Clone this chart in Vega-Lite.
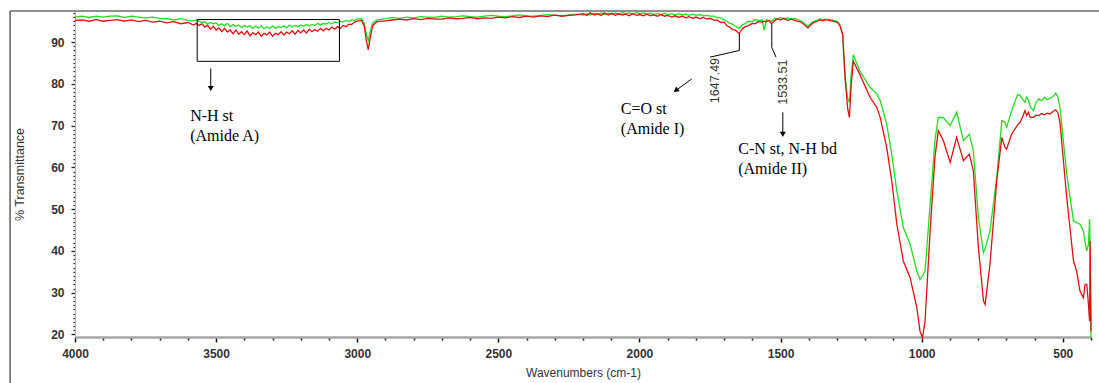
{
  "$schema": "https://vega.github.io/schema/vega-lite/v6.json",
  "width": 1016,
  "height": 326,
  "autosize": {"type": "none"},
  "padding": {"left": 75, "top": 11, "right": 8, "bottom": 46},
  "background": "white",
  "config": {"view": {"stroke": null}},
  "datasets": {
    "spec": [
      {"x":4000,"g":96.0,"r":95.2},{"x":3975,"g":96.2,"r":95.3},{"x":3950,"g":95.9,"r":95.0},{"x":3925,"g":96.2,"r":95.4},
      {"x":3900,"g":96.0,"r":95.0},{"x":3875,"g":96.2,"r":95.2},{"x":3850,"g":96.3,"r":95.4},{"x":3825,"g":95.9,"r":95.0},
      {"x":3800,"g":96.2,"r":95.3},{"x":3775,"g":96.0,"r":94.9},{"x":3750,"g":95.8,"r":95.2},{"x":3725,"g":96.0,"r":94.8},
      {"x":3700,"g":95.7,"r":95.0},{"x":3675,"g":95.6,"r":94.6},{"x":3650,"g":95.3,"r":94.9},{"x":3625,"g":95.6,"r":94.4},
      {"x":3600,"g":95.2,"r":94.7},{"x":3580,"g":95.1,"r":94.1},{"x":3570,"g":95.3,"r":94.5},
      {"x":3560,"g":95.0,"r":94.0},{"x":3550,"g":94.7,"r":94.4},{"x":3540,"g":94.9,"r":93.6},{"x":3530,"g":94.3,"r":94.0},
      {"x":3520,"g":94.7,"r":93.1},{"x":3510,"g":94.4,"r":93.8},{"x":3500,"g":94.6,"r":92.9},{"x":3490,"g":94.0,"r":93.4},
      {"x":3480,"g":94.4,"r":92.5},{"x":3470,"g":93.9,"r":93.3},{"x":3460,"g":94.5,"r":92.4},{"x":3450,"g":93.7,"r":92.9},
      {"x":3440,"g":94.2,"r":92.0},{"x":3430,"g":93.8,"r":92.9},{"x":3420,"g":94.1,"r":91.9},{"x":3410,"g":93.5,"r":92.5},
      {"x":3400,"g":94.0,"r":91.8},{"x":3390,"g":93.6,"r":92.7},{"x":3380,"g":93.9,"r":91.5},{"x":3370,"g":93.3,"r":92.3},
      {"x":3360,"g":93.8,"r":91.8},{"x":3350,"g":93.4,"r":92.4},{"x":3340,"g":93.9,"r":91.4},{"x":3330,"g":93.2,"r":92.1},
      {"x":3320,"g":93.7,"r":91.7},{"x":3310,"g":93.3,"r":92.4},{"x":3300,"g":93.9,"r":91.4},{"x":3290,"g":93.3,"r":92.1},
      {"x":3280,"g":93.7,"r":91.8},{"x":3270,"g":93.5,"r":92.5},{"x":3260,"g":93.9,"r":91.7},{"x":3250,"g":93.4,"r":92.4},
      {"x":3240,"g":94.1,"r":92.0},{"x":3230,"g":93.6,"r":92.7},{"x":3220,"g":94.0,"r":91.9},{"x":3210,"g":93.7,"r":92.8},
      {"x":3200,"g":94.1,"r":92.2},{"x":3190,"g":93.8,"r":92.9},{"x":3180,"g":94.3,"r":92.2},{"x":3170,"g":93.9,"r":93.1},
      {"x":3160,"g":94.2,"r":92.5},{"x":3150,"g":94.0,"r":93.0},{"x":3140,"g":94.5,"r":92.6},{"x":3130,"g":94.1,"r":93.3},
      {"x":3120,"g":94.5,"r":92.7},{"x":3110,"g":94.3,"r":93.3},{"x":3100,"g":94.7,"r":92.9},{"x":3090,"g":94.4,"r":93.6},
      {"x":3080,"g":94.8,"r":93.1},{"x":3070,"g":94.6,"r":93.7},{"x":3060,"g":95.0,"r":93.3},{"x":3050,"g":94.8,"r":94.0},
      {"x":3040,"g":95.2,"r":93.7},{"x":3030,"g":95.0,"r":94.3},{"x":3020,"g":95.3,"r":94.2},{"x":3010,"g":95.2,"r":94.8},
      {"x":3000,"g":95.5,"r":95.0},{"x":2985,"g":95.6,"r":95.2},{"x":2975,"g":94.5,"r":93.8},
      {"x":2968,"g":92.0,"r":90.5},{"x":2961,"g":90.4,"r":88.2},{"x":2954,"g":92.5,"r":91.0},{"x":2945,"g":94.6,"r":94.0},
      {"x":2930,"g":95.3,"r":94.9},{"x":2900,"g":95.6,"r":95.1},{"x":2875,"g":95.9,"r":95.3},{"x":2850,"g":95.7,"r":95.5},
      {"x":2825,"g":96.0,"r":95.3},{"x":2800,"g":95.8,"r":95.6},{"x":2775,"g":96.1,"r":95.4},{"x":2750,"g":96.0,"r":95.7},
      {"x":2725,"g":95.9,"r":95.5},{"x":2700,"g":96.2,"r":95.5},{"x":2675,"g":96.0,"r":95.8},{"x":2650,"g":96.1,"r":95.6},
      {"x":2625,"g":96.3,"r":95.7},{"x":2600,"g":96.1,"r":95.9},{"x":2575,"g":96.0,"r":95.6},{"x":2550,"g":96.2,"r":95.8},
      {"x":2525,"g":96.4,"r":95.7},{"x":2500,"g":96.2,"r":96.0},{"x":2475,"g":96.1,"r":95.8},{"x":2450,"g":96.3,"r":96.1},
      {"x":2425,"g":96.5,"r":95.9},{"x":2400,"g":96.3,"r":96.2},{"x":2375,"g":96.2,"r":96.0},{"x":2350,"g":96.4,"r":96.3},
      {"x":2325,"g":96.6,"r":96.1},{"x":2300,"g":96.4,"r":96.5},{"x":2275,"g":96.3,"r":96.2},{"x":2250,"g":96.5,"r":96.4},
      {"x":2225,"g":96.7,"r":96.5},{"x":2200,"g":96.5,"r":96.8},{"x":2185,"g":96.8,"r":96.4},{"x":2175,"g":96.5,"r":97.0},
      {"x":2160,"g":96.9,"r":96.5},{"x":2150,"g":96.6,"r":96.8},{"x":2135,"g":97.0,"r":96.4},{"x":2125,"g":96.6,"r":97.0},
      {"x":2110,"g":96.9,"r":96.5},{"x":2100,"g":96.7,"r":96.9},{"x":2085,"g":97.0,"r":96.4},{"x":2075,"g":96.6,"r":96.8},
      {"x":2060,"g":97.1,"r":96.5},{"x":2050,"g":96.8,"r":96.7},{"x":2035,"g":97.0,"r":96.3},{"x":2025,"g":96.7,"r":96.8},
      {"x":2010,"g":97.1,"r":96.4},{"x":2000,"g":96.8,"r":96.6},{"x":1985,"g":97.0,"r":96.3},{"x":1975,"g":96.7,"r":96.7},
      {"x":1960,"g":96.9,"r":96.3},{"x":1950,"g":96.6,"r":96.5},{"x":1935,"g":96.9,"r":96.2},{"x":1925,"g":96.6,"r":96.6},
      {"x":1910,"g":96.9,"r":96.2},{"x":1900,"g":96.6,"r":96.4},{"x":1885,"g":96.8,"r":96.0},{"x":1875,"g":96.5,"r":96.3},
      {"x":1860,"g":96.8,"r":95.9},{"x":1850,"g":96.5,"r":96.2},{"x":1835,"g":96.7,"r":95.8},{"x":1825,"g":96.4,"r":96.1},
      {"x":1810,"g":96.7,"r":95.7},{"x":1800,"g":96.4,"r":96.0},{"x":1785,"g":96.6,"r":95.6},{"x":1775,"g":96.3,"r":95.9},
      {"x":1760,"g":96.4,"r":95.5},{"x":1750,"g":96.2,"r":95.7},{"x":1735,"g":96.2,"r":95.2},{"x":1725,"g":95.9,"r":95.3},
      {"x":1712,"g":95.8,"r":94.7},{"x":1700,"g":95.4,"r":94.8},{"x":1690,"g":95.0,"r":93.9},{"x":1680,"g":94.5,"r":93.6},
      {"x":1670,"g":94.3,"r":93.0},{"x":1660,"g":93.8,"r":92.9},
      {"x":1647,"g":93.3,"r":92.0},{"x":1635,"g":94.2,"r":93.2},{"x":1625,"g":94.4,"r":93.7},{"x":1615,"g":95.0,"r":93.9},
      {"x":1600,"g":94.9,"r":94.5},{"x":1590,"g":95.4,"r":94.4},{"x":1580,"g":95.2,"r":94.9},
      {"x":1565,"g":95.3,"r":94.8},{"x":1558,"g":92.8,"r":95.0},{"x":1550,"g":95.4,"r":94.9},{"x":1540,"g":95.1,"r":95.2},
      {"x":1533,"g":95.0,"r":94.4},{"x":1520,"g":95.7,"r":95.2},{"x":1510,"g":95.5,"r":95.6},{"x":1500,"g":95.9,"r":95.3},
      {"x":1490,"g":95.6,"r":95.7},{"x":1475,"g":95.8,"r":95.2},{"x":1460,"g":95.5,"r":95.5},
      {"x":1450,"g":95.7,"r":95.2},{"x":1425,"g":95.0,"r":94.7},{"x":1403,"g":93.8,"r":93.4},{"x":1385,"g":94.9,"r":94.6},
      {"x":1370,"g":95.3,"r":95.0},{"x":1360,"g":95.6,"r":95.3},{"x":1350,"g":95.3,"r":95.1},{"x":1340,"g":95.5,"r":95.4},
      {"x":1320,"g":95.3,"r":95.1},{"x":1300,"g":95.0,"r":94.8},
      {"x":1290,"g":94.2,"r":94.0},{"x":1280,"g":92.0,"r":91.8},{"x":1271,"g":81.6,"r":81.0},{"x":1262,"g":76.5,"r":74.0},
      {"x":1256,"g":75.6,"r":72.0},{"x":1250,"g":82.0,"r":79.5},{"x":1242,"g":87.0,"r":85.4},{"x":1220,"g":83.2,"r":82.4},
      {"x":1183,"g":79.2,"r":76.8},{"x":1159,"g":77.6,"r":74.4},{"x":1147,"g":76.0,"r":72.0},{"x":1124,"g":70.4,"r":64.8},
      {"x":1106,"g":63.2,"r":56.8},{"x":1088,"g":54.4,"r":46.4},{"x":1065,"g":45.6,"r":37.6},{"x":1041,"g":41.6,"r":33.6},
      {"x":1017,"g":35.2,"r":26.4},{"x":1006,"g":33.2,"r":20.8},{"x":997,"g":34.0,"r":19.2},{"x":988,"g":35.2,"r":23.2},
      {"x":970,"g":51.2,"r":44.8},{"x":953,"g":66.4,"r":62.4},{"x":941,"g":72.0,"r":68.8},{"x":923,"g":71.9,"r":66.4},
      {"x":899,"g":70.0,"r":61.2},{"x":876,"g":73.2,"r":67.2},{"x":852,"g":66.4,"r":61.6},{"x":831,"g":67.9,"r":63.2},
      {"x":817,"g":64.0,"r":59.2},{"x":799,"g":48.0,"r":40.8},{"x":781,"g":39.6,"r":28.0},{"x":775,"g":40.5,"r":27.2},
      {"x":758,"g":44.8,"r":36.8},{"x":734,"g":57.6,"r":56.8},{"x":716,"g":71.2,"r":67.2},{"x":705,"g":70.8,"r":64.8},
      {"x":699,"g":69.6,"r":64.4},{"x":681,"g":73.6,"r":68.0},{"x":660,"g":77.5,"r":70.2},{"x":651,"g":77.2,"r":70.8},
      {"x":640,"g":76.0,"r":72.5},{"x":634,"g":75.6,"r":73.6},{"x":628,"g":76.8,"r":72.4},{"x":622,"g":76.2,"r":73.2},
      {"x":615,"g":74.5,"r":72.0},{"x":604,"g":73.6,"r":72.0},{"x":595,"g":75.5,"r":72.5},{"x":585,"g":76.4,"r":72.4},
      {"x":575,"g":76.0,"r":72.9},{"x":565,"g":76.8,"r":72.6},{"x":555,"g":76.2,"r":73.0},{"x":545,"g":76.6,"r":72.8},
      {"x":535,"g":76.9,"r":73.4},{"x":525,"g":77.8,"r":73.8},{"x":518,"g":77.0,"r":73.2},{"x":510,"g":74.4,"r":70.8},
      {"x":486,"g":58.4,"r":52.8},{"x":462,"g":47.2,"r":37.6},{"x":451,"g":46.8,"r":35.2},{"x":439,"g":46.4,"r":30.4},
      {"x":427,"g":44.8,"r":28.8},{"x":421,"g":42.0,"r":32.0},{"x":415,"g":40.0,"r":32.0},{"x":409,"g":41.6,"r":27.2},
      {"x":405,"g":47.6,"r":23.2},{"x":403,"g":40.0,"r":42.4},{"x":400,"g":19.2,"r":20.8}
    ],
    "frame": [
      {"x":4230,"y":97.45,"x2":360,"y2":97.45},
      {"x":4230,"y":97.45,"x2":4230,"y2":5}
    ],
    "box": [{"x":3567,"x2":3063,"y":95.4,"y2":85.4}],
    "segs": [
      {"x":3519,"y":83.7,"x2":3519,"y2":78.8},
      {"x":1815,"y":81.2,"x2":1873,"y2":78.3},
      {"x":1492,"y":73.2,"x2":1492,"y2":67.8},
      {"x":1646,"y":92.0,"x2":1646,"y2":88.0},
      {"x":1646,"y":88.0,"x2":1750,"y2":86.4},
      {"x":1531,"y":94.4,"x2":1531,"y2":88.7},
      {"x":1531,"y":88.7,"x2":1516,"y2":86.4}
    ],
    "heads": [
      {"x":3519,"y":78.9,"a":0},
      {"x":1871.3,"y":78.44,"a":54},
      {"x":1492,"y":67.9,"a":0}
    ],
    "notes": [
      {"x":3592,"y":72.2,"t":"N-H st"},
      {"x":3592,"y":67.6,"t":"(Amide A)"},
      {"x":2066,"y":74.0,"t":"C=O st"},
      {"x":2066,"y":69.2,"t":"(Amide I)"},
      {"x":1650,"y":64.4,"t":"C-N st, N-H bd"},
      {"x":1650,"y":59.6,"t":"(Amide II)"}
    ],
    "peaks": [
      {"x":1732,"y":80.8,"t":"1647.49"},
      {"x":1492,"y":80.4,"t":"1533.51"}
    ]
  },
  "encoding": {
    "x": {
      "field": "x", "type": "quantitative",
      "scale": {"domain": [400, 4000], "reverse": true, "nice": false, "zero": false},
      "axis": {
        "title": "Wavenumbers (cm-1)",
        "values": [4000,3900,3800,3700,3600,3500,3400,3300,3200,3100,3000,2900,2800,2700,2600,2500,2400,2300,2200,2100,2000,1900,1800,1700,1600,1500,1400,1300,1200,1100,1000,900,800,700,600,500,400],
        "format": "d",
        "labelExpr": "datum.value % 500 === 0 ? datum.label : ''",
        "labelOverlap": false,
        "labelFlush": false,
        "grid": false,
        "domainColor": "#a6a6a6", "domainWidth": 2.5,
        "tickColor": "#111", "tickWidth": 1.5,
        "tickSize": {"condition": {"test": "datum.value % 500 === 0", "value": 5}, "value": 3},
        "labelFont": "Liberation Sans", "labelFontSize": 12, "labelFontWeight": "bold", "labelColor": "#333",
        "labelPadding": 6,
        "titleFont": "Liberation Sans", "titleFontSize": 12, "titleFontWeight": "normal", "titleColor": "#333",
        "titlePadding": 8
      }
    },
    "y": {
      "field": "y", "type": "quantitative",
      "scale": {"domain": [19.4, 97.45], "nice": false, "zero": false},
      "axis": {
        "title": "% Transmittance",
        "values": [20,21,22,23,24,25,26,27,28,29,30,31,32,33,34,35,36,37,38,39,40,41,42,43,44,45,46,47,48,49,50,51,52,53,54,55,56,57,58,59,60,61,62,63,64,65,66,67,68,69,70,71,72,73,74,75,76,77,78,79,80,81,82,83,84,85,86,87,88,89,90,91,92,93,94,95,96,97],
        "labelExpr": "datum.value % 10 === 0 ? datum.label : ''",
        "labelOverlap": false,
        "grid": false,
        "domainColor": "#b0b0b0", "domainWidth": 1,
        "tickColor": "#222", "tickWidth": 1.3,
        "tickSize": {"condition": {"test": "datum.value % 10 === 0", "value": 4}, "value": 2},
        "labelFont": "Liberation Sans", "labelFontSize": 12, "labelFontWeight": "bold", "labelColor": "#333",
        "labelPadding": 7,
        "titleFont": "Liberation Sans", "titleFontSize": 12.5, "titleFontWeight": "normal", "titleColor": "#333",
        "titlePadding": 24
      }
    }
  },
  "layer": [
    {
      "data": {"name": "frame"},
      "mark": {"type": "rule", "color": "#6b6b6b", "strokeWidth": 1.6},
      "encoding": {"x2": {"field": "x2"}, "y2": {"field": "y2"}}
    },
    {
      "data": {"name": "spec"},
      "transform": [{"fold": ["g", "r"], "as": ["s", "y"]}],
      "mark": {"type": "line", "strokeWidth": 1.3, "interpolate": "linear"},
      "encoding": {
        "color": {"field": "s", "type": "nominal", "scale": {"domain": ["g", "r"], "range": ["#22dd22", "#dd1111"]}, "legend": null}
      }
    },
    {
      "data": {"name": "box"},
      "mark": {"type": "rect", "fillOpacity": 0, "stroke": "#000", "strokeWidth": 1},
      "encoding": {"x2": {"field": "x2"}, "y2": {"field": "y2"}}
    },
    {
      "data": {"name": "segs"},
      "mark": {"type": "rule", "color": "#000", "strokeWidth": 1},
      "encoding": {"x2": {"field": "x2"}, "y2": {"field": "y2"}}
    },
    {
      "data": {"name": "heads"},
      "mark": {"type": "point", "shape": "triangle-down", "filled": true, "color": "#000", "size": 36, "opacity": 1},
      "encoding": {"angle": {"field": "a", "type": "quantitative", "scale": null}}
    },
    {
      "data": {"name": "notes"},
      "mark": {"type": "text", "align": "left", "baseline": "middle", "font": "Liberation Serif", "fontSize": 16, "color": "#000"},
      "encoding": {"text": {"field": "t"}}
    },
    {
      "data": {"name": "peaks"},
      "mark": {"type": "text", "align": "center", "baseline": "middle", "angle": 270, "font": "Liberation Sans", "fontSize": 12.5, "color": "#333"},
      "encoding": {"text": {"field": "t"}}
    }
  ]
}
